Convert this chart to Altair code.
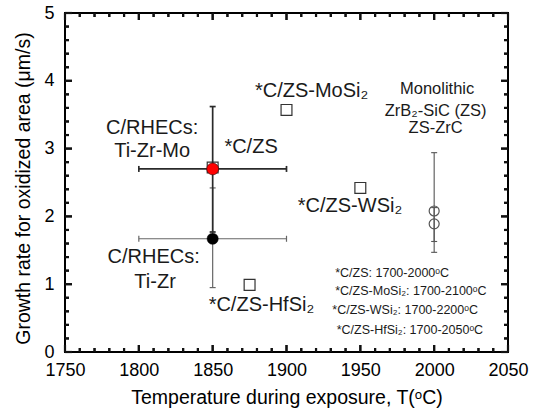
import altair as alt
import pandas as pd

FONT = "Liberation Sans"

# ---------------- data ----------------
# open squares: C/ZS-based composites (literature)
sq_name = ["*C/ZS", "*C/ZS-MoSi2", "*C/ZS-WSi2", "*C/ZS-HfSi2"]
sq_temp = [1850, 1900, 1950, 1875]
sq_rate = [2.72, 3.57, 2.42, 0.99]

# C/RHECs (this work)
rhec_name = ["Ti-Zr-Mo", "Ti-Zr"]
rhec_temp = [1850, 1850]
rhec_rate = [2.70, 1.67]
rhec_tlo = [1800, 1800]
rhec_thi = [1900, 1900]
rhec_rlo = [1.77, 0.95]
rhec_rhi = [3.62, 2.42]

# monolithic ZrB2-SiC / ZS-ZrC
mono_temp = [2000, 2000]
mono_rate = [2.08, 1.89]
mono_rlo = [1.63, 1.47]
mono_rhi = [2.94, 2.13]

# axis ticks
x_major = [1750, 1800, 1850, 1900, 1950, 2000, 2050]
x_minor = [1760, 1770, 1780, 1790, 1810, 1820, 1830, 1840, 1860, 1870, 1880, 1890,
           1910, 1920, 1930, 1940, 1960, 1970, 1980, 1990, 2010, 2020, 2030, 2040]
y_major = [0, 1, 2, 3, 4, 5]
y_minor = [0.2, 0.4, 0.6, 0.8, 1.2, 1.4, 1.6, 1.8, 2.2, 2.4, 2.6, 2.8,
           3.2, 3.4, 3.6, 3.8, 4.2, 4.4, 4.6, 4.8]

# annotations (text, anchor temperature, anchor rate)
main_text = ["C/RHECs:", "Ti-Zr-Mo", "*C/ZS", "C/RHECs:", "Ti-Zr",
             "*C/ZS-HfSi\u2082", "*C/ZS-MoSi\u2082", "*C/ZS-WSi\u2082"]
main_x = [1809, 1809, 1876, 1810, 1811, 1883, 1917, 1943]
main_y = [3.30, 2.96, 3.02, 1.40, 1.03, 0.69, 3.85, 2.15]

mono_text = ["Monolithic", "ZrB\u2082-SiC (ZS)", "ZS-ZrC"]
mono_tx = [2002, 2001, 2001]
mono_ty = [3.88, 3.56, 3.30]

note_text = ["*C/ZS: 1700-2000\u1d52C", "*C/ZS-MoSi\u2082: 1700-2100\u1d52C",
             "*C/ZS-WSi\u2082: 1700-2200\u1d52C", "*C/ZS-HfSi\u2082: 1700-2050\u1d52C"]
note_x = [1933, 1933, 1931, 1934]
note_y = [1.165, 0.90, 0.62, 0.32]

# ---------------- tables ----------------
sq_df = pd.DataFrame({"name": sq_name, "temp": sq_temp, "rate": sq_rate})
rhec_df = pd.DataFrame({"name": rhec_name, "temp": rhec_temp, "rate": rhec_rate,
                        "tlo": rhec_tlo, "thi": rhec_thi,
                        "rlo": rhec_rlo, "rhi": rhec_rhi})
mono_df = pd.DataFrame({"temp": mono_temp, "rate": mono_rate,
                        "rlo": mono_rlo, "rhi": mono_rhi})
main_df = pd.DataFrame({"t": main_text, "temp": main_x, "rate": main_y})
monot_df = pd.DataFrame({"t": mono_text, "temp": mono_tx, "rate": mono_ty})
note_df = pd.DataFrame({"t": note_text, "temp": note_x, "rate": note_y})
xmaj_df = pd.DataFrame({"v": x_major})
xmin_df = pd.DataFrame({"v": x_minor})
ymaj_df = pd.DataFrame({"v": y_major})
ymin_df = pd.DataFrame({"v": y_minor})

W, H = 443, 339

xs = alt.Scale(domain=[1750, 2050], nice=False, zero=False)
ys = alt.Scale(domain=[0, 5], nice=False, zero=False)

xax = alt.Axis(values=x_major, ticks=False, domain=False, grid=False, format="d",
               labelFontSize=18, labelFont=FONT, labelColor="black", labelPadding=9,
               labelFlush=False,
               title="Temperature during exposure, T(\u1d52C)", titleFontSize=19.5,
               titleFont=FONT, titleFontWeight="normal", titleColor="black",
               titleY=45, titleBaseline="middle", titleAlign="center", titleX=W / 2)
yax = alt.Axis(values=y_major, ticks=False, domain=False, grid=False, format="d",
               labelFontSize=18, labelFont=FONT, labelColor="black", labelPadding=11,
               labelFlush=False,
               title="Growth rate for oxidized area (\u03bcm/s)", titleFontSize=19.5,
               titleFont=FONT, titleFontWeight="normal", titleColor="black",
               titleX=-42, titleY=175, titleBaseline="middle", titleAlign="center",
               titleAngle=-90)


def X(field):
    return alt.X(field, type="quantitative", scale=xs, axis=xax)


def Y(field):
    return alt.Y(field, type="quantitative", scale=ys, axis=yax)


layers = []

# ---- markers first (sets up the scales) ----
layers.append(
    alt.Chart(sq_df).mark_point(shape="square", filled=False, color="#333333",
                                size=118, strokeWidth=1.2, opacity=1).encode(
        x=X("temp"), y=Y("rate")))

# ---- error bars ----
def rhec_bars(name, color, sw):
    base = alt.Chart(rhec_df).transform_filter(alt.datum.name == name)
    return [
        base.mark_rule(color=color, strokeWidth=sw).encode(x=X("tlo"), x2="thi", y=Y("rate")),
        base.mark_rule(color=color, strokeWidth=sw).encode(x=X("temp"), y=Y("rlo"), y2="rhi"),
        base.mark_rule(color=color, strokeWidth=sw, yOffset=-3, y2Offset=3).encode(
            x=X("tlo"), x2="tlo", y=Y("rate"), y2="rate"),
        base.mark_rule(color=color, strokeWidth=sw, yOffset=-3, y2Offset=3).encode(
            x=X("thi"), x2="thi", y=Y("rate"), y2="rate"),
        base.mark_rule(color=color, strokeWidth=sw, xOffset=-3, x2Offset=3).encode(
            x=X("temp"), x2="temp", y=Y("rlo"), y2="rlo"),
        base.mark_rule(color=color, strokeWidth=sw, xOffset=-3, x2Offset=3).encode(
            x=X("temp"), x2="temp", y=Y("rhi"), y2="rhi"),
    ]


layers += rhec_bars("Ti-Zr", "#666666", 1.2)
layers += rhec_bars("Ti-Zr-Mo", "#2a2a2a", 1.7)

mbase = alt.Chart(mono_df)
layers += [
    mbase.mark_rule(color="#555555", strokeWidth=1.1).encode(x=X("temp"), y=Y("rlo"), y2="rhi"),
    mbase.mark_rule(color="#555555", strokeWidth=1.1, xOffset=-3, x2Offset=3).encode(
        x=X("temp"), x2="temp", y=Y("rlo"), y2="rlo"),
    mbase.mark_rule(color="#555555", strokeWidth=1.1, xOffset=-3, x2Offset=3).encode(
        x=X("temp"), x2="temp", y=Y("rhi"), y2="rhi"),
]

layers.append(
    alt.Chart(mono_df).mark_point(shape="circle", filled=False, color="#555555",
                                  size=100, strokeWidth=1.2, opacity=1).encode(
        x=X("temp"), y=Y("rate")))
layers.append(
    alt.Chart(rhec_df).transform_filter(alt.datum.name == "Ti-Zr").mark_point(
        shape="circle", filled=True, fill="black", stroke="black", strokeWidth=0.5,
        size=125, opacity=1).encode(x=X("temp"), y=Y("rate")))
layers.append(
    alt.Chart(rhec_df).transform_filter(alt.datum.name == "Ti-Zr-Mo").mark_point(
        shape="circle", filled=True, fill="#ff0000", stroke="#550000", strokeWidth=0.7,
        size=140, opacity=1).encode(x=X("temp"), y=Y("rate")))

# ---- text ----
layers.append(
    alt.Chart(main_df).mark_text(font=FONT, fontSize=20, color="#1a1a1a",
                                 align="center", baseline="middle").encode(
        x=X("temp"), y=Y("rate"), text="t"))
layers.append(
    alt.Chart(monot_df).mark_text(font=FONT, fontSize=16.5, color="#1a1a1a",
                                  align="center", baseline="middle").encode(
        x=X("temp"), y=Y("rate"), text="t"))
layers.append(
    alt.Chart(note_df).mark_text(font=FONT, fontSize=12.5, color="#1a1a1a",
                                 align="left", baseline="middle").encode(
        x=X("temp"), y=Y("rate"), text="t"))

# ---- inward ticks on all four sides (rules, plus matching tick rects) ----
TKC, TKW = "#111111", 2.2


def xticks(d, L):
    return [
        alt.Chart(d).mark_rule(color=TKC, strokeWidth=TKW).encode(
            x=alt.X("v:Q", scale=xs), y=alt.value(H), y2=alt.value(H - L)),
        alt.Chart(d).mark_rule(color=TKC, strokeWidth=TKW).encode(
            x=alt.X("v:Q", scale=xs), y=alt.value(0), y2=alt.value(L)),
        alt.Chart(d).mark_tick(color=TKC, orient="vertical", size=L, thickness=2,
                               opacity=1).encode(
            x=alt.X("v:Q", scale=xs), y=alt.value(H - L / 2)),
        alt.Chart(d).mark_tick(color=TKC, orient="vertical", size=L, thickness=2,
                               opacity=1).encode(
            x=alt.X("v:Q", scale=xs), y=alt.value(L / 2)),
    ]


def yticks(d, L):
    return [
        alt.Chart(d).mark_rule(color=TKC, strokeWidth=TKW).encode(
            y=alt.Y("v:Q", scale=ys), x=alt.value(0), x2=alt.value(L)),
        alt.Chart(d).mark_rule(color=TKC, strokeWidth=TKW).encode(
            y=alt.Y("v:Q", scale=ys), x=alt.value(W), x2=alt.value(W - L)),
        alt.Chart(d).mark_tick(color=TKC, orient="horizontal", size=L, thickness=2,
                               opacity=1).encode(
            y=alt.Y("v:Q", scale=ys), x=alt.value(L / 2)),
        alt.Chart(d).mark_tick(color=TKC, orient="horizontal", size=L, thickness=2,
                               opacity=1).encode(
            y=alt.Y("v:Q", scale=ys), x=alt.value(W - L / 2)),
    ]


layers += xticks(xmaj_df, 7) + xticks(xmin_df, 4)
layers += yticks(ymaj_df, 7) + yticks(ymin_df, 4)

chart = alt.layer(*layers).properties(
    width=W, height=H,
    autosize=alt.AutoSizeParams(type="none"),
    padding={"left": 65, "top": 13, "right": 31, "bottom": 56},
    background="white",
).configure_view(stroke="black", strokeWidth=2)

chart.save("out.html", embed_options={"renderer": "svg", "actions": False})
